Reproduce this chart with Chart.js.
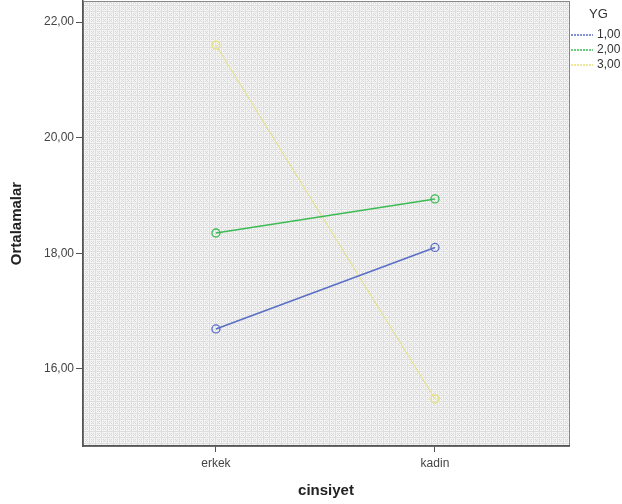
<html>
<head>
  <script src="https://cdn.jsdelivr.net/npm/chart.js@4.4.0/dist/chart.umd.min.js"></script>
  <style>
    body { margin:0; background:#fff; }
    #wrap { width:622px; height:504px; }
  </style>
</head>
<body>
  <div id="wrap"><canvas id="chart"></canvas></div>
  <script>
  // data
  var categories = ["erkek", "kadin"];
  var groups = ["1,00", "2,00", "3,00"];
  var yg1 = [16.69, 18.10];
  var yg2 = [18.35, 18.94];
  var yg3 = [21.60, 15.48];
  var yTicks = [16, 18, 20, 22];
  var colors = ["#5a6ec6", "#3dbb55", "#e6e07a"];

  function pts(vals) {
    return vals.map(function (v, i) { return { x: i + 1, y: v }; });
  }
  var series = [yg1, yg2, yg3];

  // dotted grey fill like the spss plot
  function makePattern(ctx) {
    var c = document.createElement('canvas');
    c.width = 6; c.height = 6;
    var p = c.getContext('2d');
    p.fillStyle = '#f4f4f4';
    p.fillRect(0, 0, 6, 6);
    p.fillStyle = '#d6d6d6';
    p.fillRect(1, 1, 1, 1); p.fillRect(3, 1, 1, 1);
    p.fillRect(2, 2, 1, 1);
    p.fillRect(1, 3, 1, 1); p.fillRect(3, 3, 1, 1);
    p.fillStyle = '#dedede';
    p.fillRect(5, 0, 1, 6); p.fillRect(0, 5, 6, 1);
    return ctx.createPattern(c, 'repeat');
  }

  var bgPlugin = {
    id: 'bg',
    beforeDraw: function (chart) {
      var a = chart.chartArea, ctx = chart.ctx;
      ctx.save();
      ctx.fillStyle = makePattern(ctx);
      ctx.fillRect(a.left, a.top, a.right - a.left, a.bottom - a.top);
      ctx.strokeStyle = '#888';
      ctx.lineWidth = 1;
      ctx.strokeRect(a.left + 0.5, a.top + 0.5, a.right - a.left, a.bottom - a.top);
      ctx.restore();
    }
  };

  var legendPlugin = {
    id: 'ygLegend',
    afterDraw: function (chart) {
      var ctx = chart.ctx, x = chart.chartArea.right + 2;
      ctx.save();
      ctx.font = '13px "Liberation Sans", Arial, sans-serif';
      ctx.fillStyle = '#333';
      ctx.textBaseline = 'middle';
      ctx.fillText('YG', x + 18, 14);
      ctx.font = '12px "Liberation Sans", Arial, sans-serif';
      chart.data.datasets.forEach(function (ds, i) {
        var y = 35 + i * 15;
        ctx.strokeStyle = ds.borderColor;
        ctx.lineWidth = 1.5;
        ctx.setLineDash([2, 1]);
        ctx.beginPath();
        ctx.moveTo(x, y); ctx.lineTo(x + 22, y);
        ctx.stroke();
        ctx.setLineDash([]);
        ctx.fillStyle = '#333';
        ctx.fillText(ds.label, x + 26, y);
      });
      ctx.restore();
    }
  };

  new Chart(document.getElementById('chart'), {
    type: 'line',
    data: {
      datasets: series.map(function (s, i) {
        return {
          label: groups[i],
          data: pts(s),
          borderColor: colors[i],
          backgroundColor: 'rgba(0,0,0,0)',
          borderWidth: i == 2 ? 1 : 1.5,
          pointRadius: 4,
          pointBorderWidth: 1.3,
          pointStyle: 'circle',
          fill: false
        };
      })
    },
    options: {
      responsive: true,
      maintainAspectRatio: false,
      animation: false,
      layout: { autoPadding: false, padding: { top: 1, right: 53, left: 0, bottom: 0 } },
      plugins: { legend: { display: false }, tooltip: { enabled: false } },
      scales: {
        x: {
          type: 'linear',
          min: 0.393, max: 2.612,
          afterBuildTicks: function (ax) {
            ax.ticks = categories.map(function (c, i) { return { value: i + 1 }; });
          },
          afterFit: function (ax) { ax.height = 58; ax.paddingLeft = 0; ax.paddingRight = 0; },
          ticks: {
            callback: function (v) { return categories[v - 1]; },
            font: { size: 12, family: '"Liberation Sans", Arial' },
            color: '#444',
            padding: 4,
            maxRotation: 0
          },
          grid: { drawOnChartArea: false, drawTicks: true, tickLength: 6, color: '#555' },
          border: { color: '#555', width: 1.5 },
          title: {
            display: true, text: 'cinsiyet',
            font: { size: 15, weight: 'bold', family: '"Liberation Sans", Arial' },
            color: '#222', padding: { top: 8 }
          }
        },
        y: {
          min: 14.665, max: 22.364,
          afterBuildTicks: function (ax) {
            ax.ticks = yTicks.map(function (v) { return { value: v }; });
          },
          afterFit: function (ax) { ax.width = 83; ax.paddingTop = 0; ax.paddingBottom = 0; },
          ticks: {
            callback: function (v) { return v.toFixed(2).replace('.', ','); },
            font: { size: 12, family: '"Liberation Sans", Arial' },
            color: '#444',
            padding: 2
          },
          grid: { drawOnChartArea: false, drawTicks: true, tickLength: 7, color: '#555' },
          border: { color: '#555', width: 1.5 },
          title: {
            display: true, text: 'Ortalamalar',
            font: { size: 15, weight: 'bold', family: '"Liberation Sans", Arial' },
            color: '#222', padding: { top: 8, bottom: 4 }
          }
        }
      }
    },
    plugins: [bgPlugin, legendPlugin]
  });
  </script>
</body>
</html>
